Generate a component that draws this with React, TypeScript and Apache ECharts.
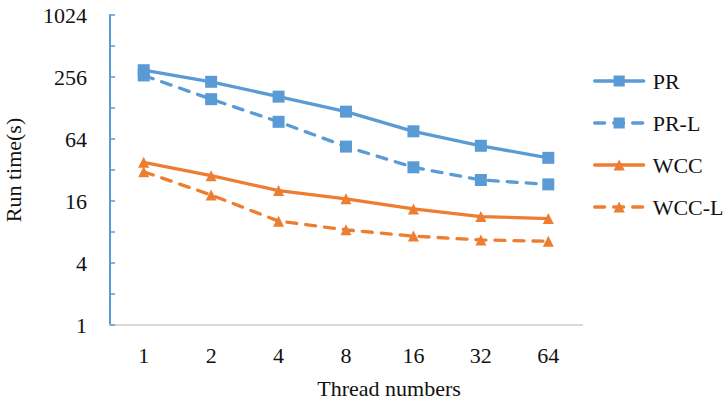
import React, { useEffect, useRef } from "react";
import * as echarts from "echarts";

const categories = ["1", "2", "4", "8", "16", "32", "64"];
const prValues = [298, 230, 165, 118, 76, 55, 42];
const prLValues = [265, 156, 94, 54, 34, 25.6, 23.2];
const wccValues = [38, 28.2, 20.2, 16.8, 13.4, 11.3, 10.8];
const wccLValues = [30.8, 18.3, 10.2, 8.4, 7.3, 6.7, 6.5];
const yMin = 1;
const yMax = 1024;

const BLUE = "#5B9BD5";
const ORANGE = "#ED7D31";
const FONT = "Liberation Serif";
const TEXT = "#111";

export default function App() {
  const ref = useRef<HTMLDivElement>(null);
  useEffect(() => {
    if (!ref.current) return;
    const chart = echarts.init(ref.current, null, { renderer: "svg" });
    const mk = (name: string, data: number[], color: string, dashed: boolean, symbol: string, size: number) => ({
      name,
      type: "line",
      data,
      symbol,
      symbolSize: size,
      itemStyle: { color },
      lineStyle: { color, width: 3.3, type: dashed ? [10, 9] : "solid", cap: "round" },
    });
    chart.setOption({
      animation: false,
      textStyle: { fontFamily: FONT },
      grid: { left: 110, right: 146, top: 15, bottom: 77, outerBoundsMode: "none", containLabel: false },
      legend: {
        orient: "vertical",
        left: 588,
        top: 65,
        itemWidth: 49,
        itemHeight: 14,
        itemGap: 20,
        lineStyle: { width: 3.3 },
        textStyle: { fontFamily: FONT, fontSize: 22, color: TEXT, padding: [0, 0, 0, 4] },
        data: ["PR", "PR-L", "WCC", "WCC-L"],
      },
      xAxis: {
        type: "category",
        data: categories,
        boundaryGap: true,
        axisLine: { lineStyle: { color: "#d9d9d9", width: 2 } },
        axisTick: { show: false },
        axisLabel: { fontFamily: FONT, fontSize: 22, color: TEXT, margin: 19 },
      },
      yAxis: {
        type: "log",
        logBase: 2,
        min: yMin,
        max: yMax,
        interval: 1,
        name: "Run time(s)",
        nameLocation: "middle",
        nameGap: 86,
        nameTextStyle: { fontFamily: FONT, fontSize: 22, color: TEXT },
        axisLine: { show: true, lineStyle: { color: BLUE, width: 2 } },
        axisTick: { show: true, inside: true, length: 5, lineStyle: { color: BLUE, width: 1.5 } },
        splitLine: { show: false },
        axisLabel: {
          fontFamily: FONT,
          fontSize: 22,
          color: TEXT,
          margin: 23,
          formatter: (v: number) => {
            const e = Math.round(Math.log2(v));
            return e % 2 === 0 ? String(Math.round(Math.pow(2, e))) : "";
          },
        },
      },
      graphic: [
        {
          type: "text",
          x: 389,
          y: 388,
          style: {
            text: "Thread numbers",
            fontFamily: FONT,
            fontSize: 22,
            fill: TEXT,
            textAlign: "center",
            textVerticalAlign: "middle",
          },
        },
      ],
      series: [
        mk("PR", prValues, BLUE, false, "rect", 12),
        mk("PR-L", prLValues, BLUE, true, "rect", 12),
        mk("WCC", wccValues, ORANGE, false, "triangle", 11),
        mk("WCC-L", wccLValues, ORANGE, true, "triangle", 11),
      ],
    });
    return () => chart.dispose();
  }, []);
  return <div ref={ref} style={{ position: "fixed", left: 0, top: 0, width: 728, height: 402, background: "#fff" }} />;
}
